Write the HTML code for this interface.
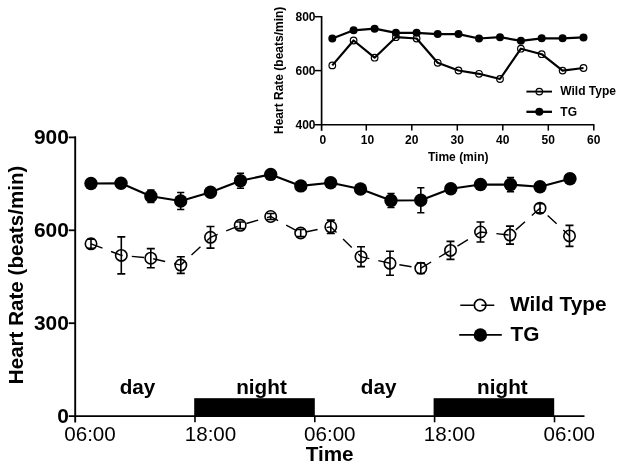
<!DOCTYPE html>
<html><head><meta charset="utf-8"><title>Heart Rate</title>
<style>
html,body{margin:0;padding:0;background:#fff;}
svg{display:block;}
text{font-family:"Liberation Sans",Arial,Helvetica,sans-serif;fill:#000;}
.b{font-weight:bold;}
</style></head><body>
<svg width="624" height="468" viewBox="0 0 624 468">
<rect width="624" height="468" fill="#fff"/>

<g stroke="#000" fill="none">
<path d="M75.2,136.5V422.5" stroke-width="1.9"/>
<path d="M68.7,416.1H584.5" stroke-width="1.7"/>
<path d="M68.7,137.4H76" stroke-width="1.8"/>
<path d="M68.7,230.3H76" stroke-width="1.8"/>
<path d="M68.7,323.2H76" stroke-width="1.8"/>
<path d="M195,416V422.3" stroke-width="1.6"/>
<path d="M314.8,416V422.3" stroke-width="1.6"/>
<path d="M434.6,416V422.3" stroke-width="1.6"/>
<path d="M554.5,416V422.3" stroke-width="1.6"/>
</g>
<rect x="194.2" y="398.2" width="120.6" height="18" fill="#000"/>
<rect x="433.6" y="398.2" width="120.6" height="18" fill="#000"/>
<text class="b" x="68.8" y="144.0" font-size="20.9" text-anchor="end">900</text>
<text class="b" x="68.8" y="236.9" font-size="20.9" text-anchor="end">600</text>
<text class="b" x="68.8" y="329.8" font-size="20.9" text-anchor="end">300</text>
<text class="b" x="68.8" y="422.70000000000005" font-size="20.9" text-anchor="end">0</text>
<text x="90" y="440.5" font-size="20.6" text-anchor="middle">06:00</text>
<text x="210.5" y="440.5" font-size="20.6" text-anchor="middle">18:00</text>
<text x="329.8" y="440.5" font-size="20.6" text-anchor="middle">06:00</text>
<text x="449.5" y="440.5" font-size="20.6" text-anchor="middle">18:00</text>
<text x="569.3" y="440.5" font-size="20.6" text-anchor="middle">06:00</text>
<text class="b" x="329.6" y="460.8" font-size="20.7" text-anchor="middle">Time</text>
<text class="b" x="137.5" y="393.6" font-size="20.7" text-anchor="middle">day</text>
<text class="b" x="261.5" y="393.6" font-size="20.7" text-anchor="middle">night</text>
<text class="b" x="378.7" y="393.6" font-size="20.7" text-anchor="middle">day</text>
<text class="b" x="502.4" y="393.8" font-size="20.7" text-anchor="middle">night</text>
<text class="b" transform="translate(23.3,384.2) rotate(-90)" font-size="20.6" >Heart Rate (beats/min)</text>
<path d="M150.9,190.10000000000002V202.5M147.3,190.10000000000002H154.5M147.3,202.5H154.5" stroke="#000" stroke-width="1.6" fill="none"/>
<path d="M180.7,192.5V209.5M177.1,192.5H184.29999999999998M177.1,209.5H184.29999999999998" stroke="#000" stroke-width="1.6" fill="none"/>
<path d="M240.5,173.3V188.3M236.9,173.3H244.1M236.9,188.3H244.1" stroke="#000" stroke-width="1.6" fill="none"/>
<path d="M391,193.5V207.5M387.4,193.5H394.6M387.4,207.5H394.6" stroke="#000" stroke-width="1.6" fill="none"/>
<path d="M420.8,187.8V212.8M417.2,187.8H424.40000000000003M417.2,212.8H424.40000000000003" stroke="#000" stroke-width="1.6" fill="none"/>
<path d="M510.5,177.6V191.6M506.9,177.6H514.1M506.9,191.6H514.1" stroke="#000" stroke-width="1.6" fill="none"/>

<polyline points="91,183.5 121,183.2 150.9,196.3 180.7,201 210.5,192.2 240.5,180.8 270.7,174.4 300.8,185.9 330.7,182.8 360.5,189 391,200.5 420.8,200.3 450.8,188.8 480.5,184.5 510.5,184.6 540,186.7 570,178.7" fill="none" stroke="#000" stroke-width="2.1" stroke-linejoin="round"/>
<circle cx="91" cy="183.5" r="6.7" fill="#000"/>
<circle cx="121" cy="183.2" r="6.7" fill="#000"/>
<circle cx="150.9" cy="196.3" r="6.7" fill="#000"/>
<circle cx="180.7" cy="201" r="6.7" fill="#000"/>
<circle cx="210.5" cy="192.2" r="6.7" fill="#000"/>
<circle cx="240.5" cy="180.8" r="6.7" fill="#000"/>
<circle cx="270.7" cy="174.4" r="6.7" fill="#000"/>
<circle cx="300.8" cy="185.9" r="6.7" fill="#000"/>
<circle cx="330.7" cy="182.8" r="6.7" fill="#000"/>
<circle cx="360.5" cy="189" r="6.7" fill="#000"/>
<circle cx="391" cy="200.5" r="6.7" fill="#000"/>
<circle cx="420.8" cy="200.3" r="6.7" fill="#000"/>
<circle cx="450.8" cy="188.8" r="6.7" fill="#000"/>
<circle cx="480.5" cy="184.5" r="6.7" fill="#000"/>
<circle cx="510.5" cy="184.6" r="6.7" fill="#000"/>
<circle cx="540" cy="186.7" r="6.7" fill="#000"/>
<circle cx="570" cy="178.7" r="6.7" fill="#000"/>
<path d="M91,239.3V248.3M87,239.3H95M87,248.3H95" stroke="#000" stroke-width="1.6" fill="none"/>
<path d="M121.3,236.9V273.9M117.3,236.9H125.3M117.3,273.9H125.3" stroke="#000" stroke-width="1.6" fill="none"/>
<path d="M150.8,248.6V267.8M146.8,248.6H154.8M146.8,267.8H154.8" stroke="#000" stroke-width="1.6" fill="none"/>
<path d="M180.8,256.8V273.40000000000003M176.8,256.8H184.8M176.8,273.40000000000003H184.8" stroke="#000" stroke-width="1.6" fill="none"/>
<path d="M210.5,226.5V248.10000000000002M206.5,226.5H214.5M206.5,248.10000000000002H214.5" stroke="#000" stroke-width="1.6" fill="none"/>
<path d="M240.2,222.0V228.60000000000002M236.2,222.0H244.2M236.2,228.60000000000002H244.2" stroke="#000" stroke-width="1.6" fill="none"/>
<path d="M270.7,213.5V219.5M266.7,213.5H274.7M266.7,219.5H274.7" stroke="#000" stroke-width="1.6" fill="none"/>
<path d="M300.7,229.4V236.6M296.7,229.4H304.7M296.7,236.6H304.7" stroke="#000" stroke-width="1.6" fill="none"/>
<path d="M330.8,220.10000000000002V233.5M326.8,220.10000000000002H334.8M326.8,233.5H334.8" stroke="#000" stroke-width="1.6" fill="none"/>
<path d="M361,246.79999999999998V266.59999999999997M357,246.79999999999998H365M357,266.59999999999997H365" stroke="#000" stroke-width="1.6" fill="none"/>
<path d="M390,251.3V275.3M386,251.3H394M386,275.3H394" stroke="#000" stroke-width="1.6" fill="none"/>
<path d="M420.8,262.9V273.5M416.8,262.9H424.8M416.8,273.5H424.8" stroke="#000" stroke-width="1.6" fill="none"/>
<path d="M450.5,241.4V259.4M446.5,241.4H454.5M446.5,259.4H454.5" stroke="#000" stroke-width="1.6" fill="none"/>
<path d="M480.5,222V242M476.5,222H484.5M476.5,242H484.5" stroke="#000" stroke-width="1.6" fill="none"/>
<path d="M510,226.1V244.1M506,226.1H514M506,244.1H514" stroke="#000" stroke-width="1.6" fill="none"/>
<path d="M540,203.7V212.7M536,203.7H544M536,212.7H544" stroke="#000" stroke-width="1.6" fill="none"/>
<path d="M569.5,225.4V246.4M565.5,225.4H573.5M565.5,246.4H573.5" stroke="#000" stroke-width="1.6" fill="none"/>

<polyline points="91,243.8 121.3,255.4 150.8,258.2 180.8,265.1 210.5,237.3 240.2,225.3 270.7,216.5 300.7,233 330.8,226.8 361,256.7 390,263.3 420.8,268.2 450.5,250.4 480.5,232 510,235.1 540,208.2 569.5,235.9" fill="none" stroke="#000" stroke-width="1.4" stroke-dasharray="12.3 9.2"/>
<circle cx="91" cy="243.8" r="5.7" fill="none" stroke="#000" stroke-width="1.6"/>
<circle cx="121.3" cy="255.4" r="5.7" fill="none" stroke="#000" stroke-width="1.6"/>
<circle cx="150.8" cy="258.2" r="5.7" fill="none" stroke="#000" stroke-width="1.6"/>
<circle cx="180.8" cy="265.1" r="5.7" fill="none" stroke="#000" stroke-width="1.6"/>
<circle cx="210.5" cy="237.3" r="5.7" fill="none" stroke="#000" stroke-width="1.6"/>
<circle cx="240.2" cy="225.3" r="5.7" fill="none" stroke="#000" stroke-width="1.6"/>
<circle cx="270.7" cy="216.5" r="5.7" fill="none" stroke="#000" stroke-width="1.6"/>
<circle cx="300.7" cy="233" r="5.7" fill="none" stroke="#000" stroke-width="1.6"/>
<circle cx="330.8" cy="226.8" r="5.7" fill="none" stroke="#000" stroke-width="1.6"/>
<circle cx="361" cy="256.7" r="5.7" fill="none" stroke="#000" stroke-width="1.6"/>
<circle cx="390" cy="263.3" r="5.7" fill="none" stroke="#000" stroke-width="1.6"/>
<circle cx="420.8" cy="268.2" r="5.7" fill="none" stroke="#000" stroke-width="1.6"/>
<circle cx="450.5" cy="250.4" r="5.7" fill="none" stroke="#000" stroke-width="1.6"/>
<circle cx="480.5" cy="232" r="5.7" fill="none" stroke="#000" stroke-width="1.6"/>
<circle cx="510" cy="235.1" r="5.7" fill="none" stroke="#000" stroke-width="1.6"/>
<circle cx="540" cy="208.2" r="5.7" fill="none" stroke="#000" stroke-width="1.6"/>
<circle cx="569.5" cy="235.9" r="5.7" fill="none" stroke="#000" stroke-width="1.6"/>
<path d="M460.3,305.2H473.8M481.4,305.2H494.3" stroke="#000" stroke-width="1.5"/>
<circle cx="480.1" cy="305.2" r="5.75" fill="none" stroke="#000" stroke-width="1.7"/>
<path d="M459.2,334.9H501.8" stroke="#000" stroke-width="1.9"/>
<circle cx="480.4" cy="335" r="6.7" fill="#000"/>
<text class="b" x="510.1" y="311" font-size="20.8">Wild Type</text>
<text class="b" x="510.6" y="341.3" font-size="20.8">TG</text>
<g stroke="#000" fill="none" stroke-width="1.5">
<path d="M321.6,16V130.8" stroke-width="1.7"/>
<path d="M315,124.8H594.3"/>
<path d="M315,16.7H321.5"/>
<path d="M315,70.6H321.5"/>
<path d="M366.3,124.5V130.6"/>
<path d="M411.8,124.5V130.6"/>
<path d="M457.3,124.5V130.6"/>
<path d="M502.8,124.5V130.6"/>
<path d="M548.3,124.5V130.6"/>
<path d="M593.8,124.5V130.6"/>
</g>
<text class="b" x="315.5" y="20.9" font-size="12" text-anchor="end">800</text>
<text class="b" x="315.5" y="74.8" font-size="12" text-anchor="end">600</text>
<text class="b" x="315.5" y="128.79999999999998" font-size="12" text-anchor="end">400</text>
<text class="b" x="322.8" y="144.3" font-size="12" text-anchor="middle">0</text>
<text class="b" x="367.5" y="144.3" font-size="12" text-anchor="middle">10</text>
<text class="b" x="411.8" y="144.3" font-size="12" text-anchor="middle">20</text>
<text class="b" x="457.3" y="144.3" font-size="12" text-anchor="middle">30</text>
<text class="b" x="502.8" y="144.3" font-size="12" text-anchor="middle">40</text>
<text class="b" x="548.3" y="144.3" font-size="12" text-anchor="middle">50</text>
<text class="b" x="593.8" y="144.3" font-size="12" text-anchor="middle">60</text>
<text class="b" x="428" y="160.9" font-size="12">Time (min)</text>
<text class="b" transform="translate(283.3,134) rotate(-90)" font-size="12">Heart Rate (beats/min)</text>
<polyline points="332.3,65.4 353.6,40.5 374.6,57.7 395.9,37.2 416.6,38.5 437.7,62.8 458.5,70.5 479,73.8 500,79 520.9,48.7 541.7,54.2 562.6,70.6 583.5,68" fill="none" stroke="#000" stroke-width="2.2" stroke-linejoin="round"/>
<circle cx="332.3" cy="65.4" r="3.3" fill="none" stroke="#000" stroke-width="1.2"/>
<circle cx="353.6" cy="40.5" r="3.3" fill="none" stroke="#000" stroke-width="1.2"/>
<circle cx="374.6" cy="57.7" r="3.3" fill="none" stroke="#000" stroke-width="1.2"/>
<circle cx="395.9" cy="37.2" r="3.3" fill="none" stroke="#000" stroke-width="1.2"/>
<circle cx="416.6" cy="38.5" r="3.3" fill="none" stroke="#000" stroke-width="1.2"/>
<circle cx="437.7" cy="62.8" r="3.3" fill="none" stroke="#000" stroke-width="1.2"/>
<circle cx="458.5" cy="70.5" r="3.3" fill="none" stroke="#000" stroke-width="1.2"/>
<circle cx="479" cy="73.8" r="3.3" fill="none" stroke="#000" stroke-width="1.2"/>
<circle cx="500" cy="79" r="3.3" fill="none" stroke="#000" stroke-width="1.2"/>
<circle cx="520.9" cy="48.7" r="3.3" fill="none" stroke="#000" stroke-width="1.2"/>
<circle cx="541.7" cy="54.2" r="3.3" fill="none" stroke="#000" stroke-width="1.2"/>
<circle cx="562.6" cy="70.6" r="3.3" fill="none" stroke="#000" stroke-width="1.2"/>
<circle cx="583.5" cy="68" r="3.3" fill="none" stroke="#000" stroke-width="1.2"/>
<polyline points="332.3,38.5 353.6,30.3 374.6,28.7 395.9,32.8 416.6,32.8 437.7,34.1 458.5,34.1 479,38.5 500,37.2 520.9,40.8 541.7,38.3 562.6,38.3 583.5,37.4" fill="none" stroke="#000" stroke-width="2.2" stroke-linejoin="round"/>
<circle cx="332.3" cy="38.5" r="4" fill="#000"/>
<circle cx="353.6" cy="30.3" r="4" fill="#000"/>
<circle cx="374.6" cy="28.7" r="4" fill="#000"/>
<circle cx="395.9" cy="32.8" r="4" fill="#000"/>
<circle cx="416.6" cy="32.8" r="4" fill="#000"/>
<circle cx="437.7" cy="34.1" r="4" fill="#000"/>
<circle cx="458.5" cy="34.1" r="4" fill="#000"/>
<circle cx="479" cy="38.5" r="4" fill="#000"/>
<circle cx="500" cy="37.2" r="4" fill="#000"/>
<circle cx="520.9" cy="40.8" r="4" fill="#000"/>
<circle cx="541.7" cy="38.3" r="4" fill="#000"/>
<circle cx="562.6" cy="38.3" r="4" fill="#000"/>
<circle cx="583.5" cy="37.4" r="4" fill="#000"/>
<path d="M526.4,91.6H552" stroke="#000" stroke-width="1.9"/>
<circle cx="539.3" cy="91.6" r="3.3" fill="none" stroke="#000" stroke-width="1.2"/>
<path d="M526.4,111.8H552" stroke="#000" stroke-width="2.3"/>
<circle cx="539.3" cy="111.8" r="4" fill="#000"/>
<text class="b" x="560.3" y="95.3" font-size="12">Wild Type</text>
<text class="b" x="560.3" y="115.8" font-size="12">TG</text>
</svg></body></html>
